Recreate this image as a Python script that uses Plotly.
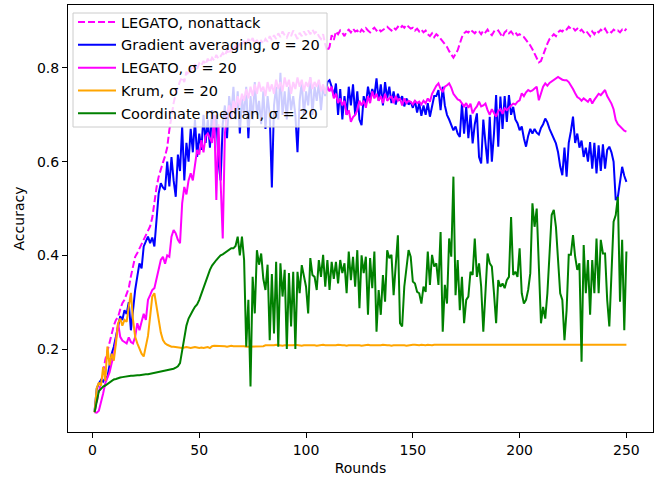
import plotly.graph_objects as go

rounds = list(range(1, 251))

legato_nonattack = [
    0.065, 0.085, 0.105, 0.125, 0.150, 0.177, 0.195, 0.215, 0.235, 0.250,
    0.262, 0.268, 0.285, 0.298, 0.305, 0.318, 0.330, 0.355, 0.380, 0.397,
    0.405, 0.415, 0.425, 0.433, 0.442, 0.455, 0.462, 0.480, 0.518, 0.545,
    0.568, 0.586, 0.598, 0.612, 0.630, 0.668, 0.700, 0.725, 0.745, 0.760,
    0.772, 0.780, 0.770, 0.792, 0.785, 0.800, 0.795, 0.808, 0.798, 0.810,
    0.805, 0.815, 0.808, 0.820, 0.812, 0.822, 0.816, 0.828, 0.820, 0.825,
    0.832, 0.826, 0.838, 0.830, 0.842, 0.836, 0.848, 0.840, 0.852, 0.846,
    0.858, 0.850, 0.862, 0.855, 0.864, 0.852, 0.860, 0.848, 0.858, 0.852,
    0.862, 0.856, 0.868, 0.860, 0.870, 0.862, 0.874, 0.866, 0.878, 0.870,
    0.865, 0.876, 0.868, 0.880, 0.872, 0.862, 0.875, 0.868, 0.878, 0.870,
    0.880, 0.872, 0.882, 0.874, 0.878, 0.868, 0.862, 0.872, 0.850, 0.836,
    0.845, 0.870, 0.860, 0.878, 0.872, 0.880, 0.875, 0.868, 0.878, 0.882,
    0.876, 0.884, 0.878, 0.880, 0.874, 0.882, 0.878, 0.885, 0.880, 0.876,
    0.882, 0.886, 0.880, 0.884, 0.878, 0.882, 0.886, 0.888, 0.884, 0.880,
    0.886, 0.882, 0.888, 0.884, 0.890, 0.886, 0.892, 0.888, 0.884, 0.886,
    0.880, 0.884, 0.878, 0.882, 0.876, 0.880, 0.872, 0.868, 0.874, 0.866,
    0.872, 0.868, 0.862, 0.858, 0.850, 0.845, 0.836, 0.828, 0.822, 0.830,
    0.838, 0.852, 0.866, 0.874, 0.878, 0.876, 0.882, 0.878, 0.874, 0.880,
    0.878, 0.872, 0.880, 0.876, 0.882, 0.874, 0.870, 0.878, 0.876, 0.880,
    0.872, 0.866, 0.876, 0.880, 0.874, 0.878, 0.872, 0.876, 0.870, 0.872,
    0.868, 0.866, 0.860, 0.855, 0.848, 0.840, 0.830, 0.822, 0.812, 0.815,
    0.828, 0.842, 0.852, 0.862, 0.866, 0.872, 0.868, 0.876, 0.880, 0.878,
    0.884, 0.882, 0.888, 0.884, 0.886, 0.880, 0.884, 0.878, 0.882, 0.876,
    0.880, 0.874, 0.868, 0.878, 0.872, 0.880, 0.876, 0.882, 0.878, 0.884,
    0.876, 0.880, 0.876, 0.882, 0.878, 0.880, 0.876, 0.882, 0.878, 0.884,
]

gradient_avg = [
    0.068, 0.115, 0.127, 0.134, 0.130, 0.138, 0.141, 0.165, 0.190, 0.205,
    0.226, 0.245, 0.270, 0.262, 0.283, 0.275, 0.300, 0.240, 0.290, 0.326,
    0.355, 0.383, 0.372, 0.419, 0.430, 0.440, 0.426, 0.438, 0.419, 0.470,
    0.532, 0.554, 0.545, 0.540, 0.600, 0.547, 0.610, 0.560, 0.525, 0.615,
    0.580, 0.675, 0.560, 0.640, 0.600, 0.670, 0.620, 0.690, 0.610, 0.660,
    0.625, 0.700, 0.640, 0.690, 0.630, 0.710, 0.650, 0.700, 0.600, 0.560,
    0.680, 0.720, 0.650, 0.740, 0.700, 0.760, 0.690, 0.750, 0.660, 0.735,
    0.700, 0.760, 0.650, 0.740, 0.690, 0.770, 0.700, 0.730, 0.680, 0.750,
    0.670, 0.740, 0.700, 0.545, 0.720, 0.760, 0.690, 0.790, 0.700, 0.750,
    0.690, 0.760, 0.710, 0.740, 0.700, 0.620, 0.730, 0.770, 0.700, 0.750,
    0.720, 0.780, 0.700, 0.760, 0.730, 0.770, 0.710, 0.760, 0.740, 0.770,
    0.774, 0.760, 0.740, 0.767, 0.700, 0.755, 0.690, 0.740, 0.700, 0.760,
    0.720, 0.765, 0.700, 0.750, 0.690, 0.678, 0.740, 0.720, 0.760, 0.735,
    0.755, 0.740, 0.778, 0.730, 0.765, 0.720, 0.770, 0.735, 0.760, 0.725,
    0.750, 0.722, 0.745, 0.730, 0.740, 0.718, 0.735, 0.722, 0.728, 0.715,
    0.730, 0.705, 0.725, 0.698, 0.720, 0.700, 0.725, 0.696, 0.715, 0.740,
    0.740, 0.753, 0.710, 0.760, 0.720, 0.700, 0.690, 0.680, 0.667, 0.675,
    0.660, 0.653, 0.724, 0.660, 0.717, 0.650, 0.700, 0.639, 0.680, 0.703,
    0.610, 0.596, 0.690, 0.640, 0.596, 0.696, 0.600, 0.660, 0.742, 0.632,
    0.739, 0.670, 0.740, 0.685, 0.742, 0.700, 0.717, 0.690, 0.682, 0.667,
    0.675, 0.650, 0.632, 0.655, 0.670, 0.660, 0.670, 0.662, 0.658, 0.672,
    0.680, 0.692, 0.684, 0.670, 0.660, 0.650, 0.639, 0.620, 0.590, 0.571,
    0.630, 0.568, 0.640, 0.665, 0.696, 0.640, 0.660, 0.630, 0.645, 0.610,
    0.630, 0.600, 0.642, 0.585, 0.640, 0.575, 0.635, 0.580, 0.637, 0.585,
    0.625, 0.632, 0.620, 0.600, 0.518, 0.525, 0.560, 0.589, 0.570, 0.557,
]

legato_sigma = [
    0.065, 0.064, 0.068, 0.084, 0.105, 0.127, 0.140, 0.150, 0.170, 0.185,
    0.220, 0.255, 0.226, 0.218, 0.215, 0.212, 0.225, 0.215, 0.212, 0.226,
    0.255, 0.240, 0.258, 0.275, 0.262, 0.305, 0.315, 0.326, 0.330, 0.350,
    0.376, 0.390, 0.397, 0.382, 0.400, 0.397, 0.440, 0.454, 0.447, 0.433,
    0.426, 0.511, 0.546, 0.530, 0.560, 0.575, 0.560, 0.589, 0.625, 0.615,
    0.646, 0.620, 0.655, 0.660, 0.650, 0.640, 0.700, 0.518, 0.680, 0.560,
    0.436, 0.660, 0.700, 0.720, 0.690, 0.730, 0.710, 0.740, 0.720, 0.745,
    0.730, 0.755, 0.735, 0.760, 0.740, 0.765, 0.745, 0.770, 0.750, 0.760,
    0.740, 0.770, 0.750, 0.765, 0.745, 0.775, 0.755, 0.770, 0.750, 0.780,
    0.760, 0.775, 0.745, 0.770, 0.755, 0.780, 0.760, 0.775, 0.750, 0.770,
    0.760, 0.780, 0.755, 0.770, 0.760, 0.775, 0.750, 0.765, 0.745, 0.760,
    0.750, 0.760, 0.735, 0.745, 0.725, 0.735, 0.720, 0.730, 0.700, 0.710,
    0.685, 0.695, 0.700, 0.710, 0.730, 0.720, 0.730, 0.715, 0.740, 0.725,
    0.750, 0.735, 0.745, 0.730, 0.740, 0.725, 0.745, 0.730, 0.735, 0.740,
    0.725, 0.740, 0.730, 0.735, 0.720, 0.735, 0.725, 0.730, 0.728, 0.722,
    0.730, 0.725, 0.728, 0.722, 0.730, 0.725, 0.735, 0.728, 0.745, 0.755,
    0.762, 0.767, 0.755, 0.750, 0.760, 0.763, 0.767, 0.758, 0.745, 0.739,
    0.733, 0.731, 0.724, 0.718, 0.725, 0.715, 0.724, 0.703, 0.712, 0.718,
    0.728, 0.718, 0.720, 0.724, 0.710, 0.700, 0.712, 0.705, 0.696, 0.708,
    0.712, 0.702, 0.714, 0.710, 0.716, 0.720, 0.724, 0.722, 0.728, 0.731,
    0.746, 0.740, 0.748, 0.753, 0.750, 0.752, 0.756, 0.760, 0.731, 0.748,
    0.760, 0.767, 0.762, 0.768, 0.771, 0.774, 0.778, 0.781, 0.778, 0.775,
    0.774, 0.774, 0.770, 0.763, 0.755, 0.746, 0.738, 0.735, 0.730, 0.735,
    0.731, 0.728, 0.735, 0.724, 0.732, 0.740, 0.745, 0.742, 0.748, 0.753,
    0.740, 0.732, 0.724, 0.712, 0.689, 0.680, 0.675, 0.670, 0.666, 0.664,
]

krum = [
    0.065, 0.117, 0.128, 0.122, 0.162, 0.132, 0.205, 0.165, 0.190, 0.175,
    0.212, 0.255, 0.265, 0.250, 0.262, 0.258, 0.290, 0.320, 0.262, 0.226,
    0.212, 0.200, 0.190, 0.184, 0.205, 0.228, 0.269, 0.312, 0.319, 0.290,
    0.262, 0.235, 0.219, 0.212, 0.209, 0.207, 0.205, 0.205, 0.204, 0.204,
    0.203, 0.202, 0.203, 0.204, 0.203, 0.202, 0.203, 0.204, 0.203, 0.202,
    0.203, 0.202, 0.203, 0.204, 0.202, 0.206, 0.207, 0.207, 0.207, 0.206,
    0.206, 0.206, 0.205, 0.206, 0.207, 0.206, 0.206, 0.207, 0.207, 0.206,
    0.206, 0.205, 0.205, 0.206, 0.205, 0.205, 0.206, 0.205, 0.206, 0.206,
    0.208, 0.208, 0.207, 0.208, 0.208, 0.209, 0.208, 0.208, 0.207, 0.208,
    0.208, 0.208, 0.207, 0.208, 0.209, 0.208, 0.208, 0.207, 0.208, 0.208,
    0.208, 0.209, 0.208, 0.208, 0.207, 0.208, 0.208, 0.209, 0.208, 0.208,
    0.208, 0.207, 0.208, 0.208, 0.209, 0.208, 0.208, 0.208, 0.207, 0.208,
    0.208, 0.209, 0.208, 0.208, 0.208, 0.207, 0.208, 0.208, 0.209, 0.208,
    0.208, 0.208, 0.207, 0.208, 0.208, 0.209, 0.208, 0.208, 0.208, 0.207,
    0.208, 0.208, 0.209, 0.208, 0.208, 0.208, 0.207, 0.208, 0.208, 0.209,
    0.209, 0.208, 0.208, 0.209, 0.208, 0.208, 0.209, 0.208, 0.208, 0.209,
    0.209, 0.208, 0.208, 0.209, 0.209, 0.208, 0.208, 0.209, 0.208, 0.208,
    0.209, 0.209, 0.208, 0.209, 0.208, 0.209, 0.209, 0.208, 0.209, 0.208,
    0.209, 0.209, 0.208, 0.209, 0.209, 0.208, 0.209, 0.209, 0.208, 0.209,
    0.209, 0.208, 0.209, 0.209, 0.209, 0.208, 0.209, 0.209, 0.208, 0.209,
    0.209, 0.209, 0.208, 0.209, 0.209, 0.209, 0.208, 0.209, 0.209, 0.209,
    0.208, 0.209, 0.209, 0.209, 0.208, 0.209, 0.209, 0.209, 0.208, 0.209,
    0.209, 0.209, 0.208, 0.209, 0.209, 0.209, 0.209, 0.208, 0.209, 0.209,
    0.209, 0.208, 0.209, 0.209, 0.209, 0.209, 0.208, 0.209, 0.209, 0.209,
    0.209, 0.209, 0.208, 0.209, 0.209, 0.209, 0.209, 0.209, 0.208, 0.209,
]

coord_median = [
    0.065, 0.090, 0.110, 0.115, 0.120, 0.122, 0.125, 0.128, 0.132, 0.135,
    0.136, 0.138, 0.139, 0.140, 0.141, 0.142, 0.142, 0.143, 0.143, 0.144,
    0.144, 0.144, 0.145, 0.145, 0.146, 0.146, 0.147, 0.147, 0.148, 0.150,
    0.151, 0.152, 0.152, 0.153, 0.154, 0.155, 0.156, 0.158, 0.160, 0.163,
    0.170, 0.195, 0.226, 0.250, 0.265, 0.275, 0.282, 0.290, 0.295, 0.305,
    0.318, 0.330, 0.345, 0.360, 0.369, 0.378, 0.385, 0.390, 0.395, 0.400,
    0.402, 0.405, 0.408, 0.412, 0.415, 0.415, 0.420, 0.440, 0.400, 0.440,
    0.390, 0.205, 0.305, 0.120, 0.354, 0.276, 0.411, 0.380, 0.404, 0.350,
    0.326, 0.380, 0.219, 0.360, 0.233, 0.386, 0.205, 0.383, 0.312, 0.369,
    0.200, 0.362, 0.248, 0.365, 0.200, 0.365, 0.319, 0.379, 0.358, 0.333,
    0.276, 0.394, 0.358, 0.354, 0.326, 0.390, 0.354, 0.401, 0.333, 0.390,
    0.326, 0.386, 0.350, 0.386, 0.340, 0.390, 0.362, 0.383, 0.319, 0.408,
    0.347, 0.397, 0.333, 0.411, 0.287, 0.400, 0.362, 0.397, 0.273, 0.394,
    0.330, 0.408, 0.237, 0.326, 0.273, 0.358, 0.301, 0.411, 0.394, 0.401,
    0.315, 0.380, 0.443, 0.255, 0.248, 0.333, 0.380, 0.411, 0.397, 0.344,
    0.340, 0.322, 0.319, 0.297, 0.333, 0.322, 0.408, 0.337, 0.401, 0.376,
    0.383, 0.337, 0.450, 0.237, 0.337, 0.297, 0.436, 0.397, 0.568, 0.315,
    0.390, 0.283, 0.354, 0.255, 0.305, 0.312, 0.365, 0.358, 0.436, 0.354,
    0.383, 0.333, 0.237, 0.326, 0.404, 0.383, 0.376, 0.319, 0.255, 0.347,
    0.333, 0.340, 0.330, 0.347, 0.354, 0.482, 0.358, 0.365, 0.354, 0.415,
    0.319, 0.297, 0.305, 0.326, 0.362, 0.511, 0.461, 0.500, 0.390, 0.255,
    0.290, 0.265, 0.319, 0.404, 0.486, 0.497, 0.461, 0.390, 0.319, 0.305,
    0.219, 0.283, 0.401, 0.401, 0.443, 0.397, 0.369, 0.383, 0.173, 0.422,
    0.319, 0.390, 0.273, 0.390, 0.319, 0.436, 0.319, 0.433, 0.404, 0.404,
    0.305, 0.248, 0.369, 0.472, 0.486, 0.525, 0.301, 0.433, 0.240, 0.408,
]

series = [
    ("LEGATO, nonattack", legato_nonattack, "#ff00ff", "7px,3px"),
    ("Gradient averaging, σ = 20", gradient_avg, "#0000ff", "solid"),
    ("LEGATO, σ = 20", legato_sigma, "#ff00ff", "solid"),
    ("Krum, σ = 20", krum, "#ffa500", "solid"),
    ("Coordinate median, σ = 20", coord_median, "#008000", "solid"),
]

fig = go.Figure()
for i, (name, vals, color, dash) in enumerate(series):
    fig.add_trace(go.Scatter(
        x=rounds, y=vals, mode="lines", name=name, legendgroup=f"g{i}",
        line=dict(color=color, width=2, dash=dash),
    ))

font = "DejaVu Sans, sans-serif"
axis_common = dict(
    showline=True, linecolor="black", linewidth=1, mirror=True,
    ticks="outside", ticklen=5, tickwidth=1, tickcolor="black",
    showgrid=False, zeroline=False, automargin=False,
    tickfont=dict(family=font, size=14, color="black"),
)

# plot area in pixels: x 68..653, y 5..432
PW, PH = 585.0, 427.0
def px_x(p):
    return (p - 68) / PW
def px_y(p):
    return 1 - (p - 5) / PH

fig.update_layout(
    width=660, height=479,
    margin=dict(l=68, r=7, t=5, b=47, autoexpand=False),
    paper_bgcolor="white", plot_bgcolor="white",
    font=dict(family=font, size=14, color="black"),
    xaxis=dict(range=[-11.45, 262.45], tickmode="array",
               tickvals=[0, 50, 100, 150, 200, 250],
               title=dict(text="Rounds", font=dict(family=font, size=14), standoff=6),
               **axis_common),
    yaxis=dict(range=[0.0228, 0.9345], tickmode="array",
               tickvals=[0.2, 0.4, 0.6, 0.8], ticktext=["0.2", "0.4", "0.6", "0.8"],
               title=dict(text="Accuracy", font=dict(family=font, size=14), standoff=9),
               **axis_common),
    legend=dict(x=px_x(73), y=px_y(6), xanchor="left", yanchor="top",
                bgcolor="rgba(0,0,0,0)", borderwidth=0,
                font=dict(family=font, size=14.5, color="black"),
                itemwidth=38, tracegroupgap=1),
    shapes=[dict(type="rect", xref="paper", yref="paper", layer="above",
                 x0=px_x(73), x1=px_x(327), y0=px_y(127), y1=px_y(13),
                 fillcolor="rgba(255,255,255,0.8)",
                 line=dict(color="#cccccc", width=1))],
    showlegend=True,
)

fig.write_html("out.html", config={"displayModeBar": False},
               post_script="document.body.style.margin='0';")
